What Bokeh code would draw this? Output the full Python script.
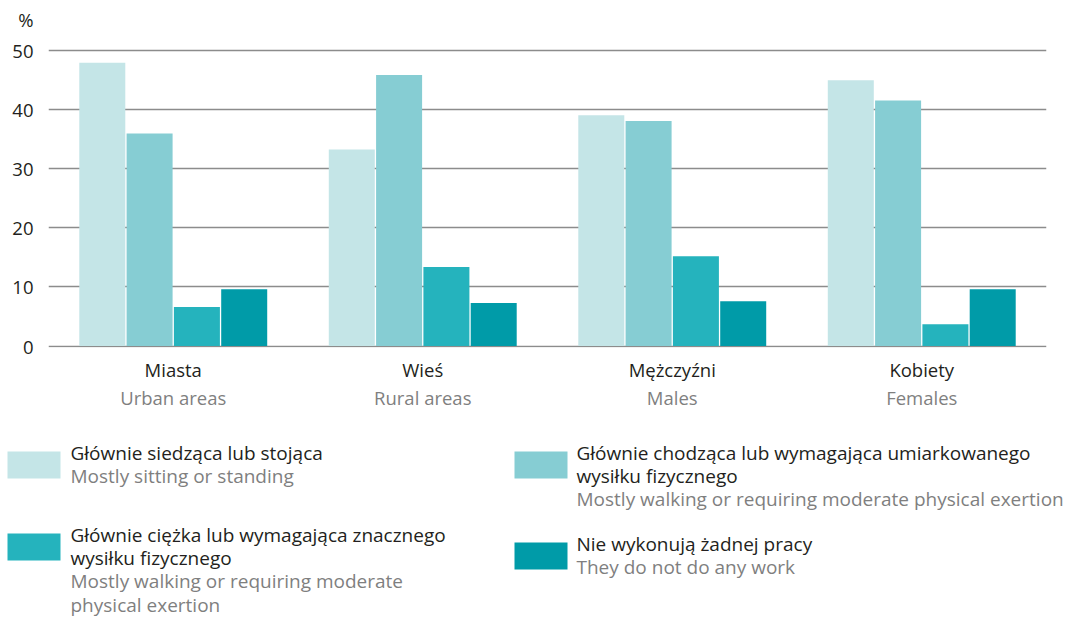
from bokeh.plotting import figure
from bokeh.models import FactorRange, Range1d, FixedTicker, ColumnDataSource, CategoricalAxis
from bokeh.transform import dodge
from bokeh.layouts import column
from bokeh.core.properties import value
from bokeh.embed import file_html
from bokeh.resources import INLINE

# ---------------- data ----------------
categories_pl = ["Miasta", "Wieś", "Mężczyźni", "Kobiety"]
categories_en = ["Urban areas", "Rural areas", "Males", "Females"]

sitting = [48.0, 33.3, 39.1, 45.0]
walking = [36.0, 45.9, 38.1, 41.6]
heavy = [6.6, 13.4, 15.2, 3.7]
no_work = [9.6, 7.3, 7.6, 9.6]

y_ticks = [0, 10, 20, 30, 40, 50]
unit_label = "%"

series_pl = [
    ["Głównie siedząca lub stojąca"],
    ["Głównie chodząca lub wymagająca umiarkowanego", "wysiłku fizycznego"],
    ["Głównie ciężka lub wymagająca znacznego", "wysiłku fizycznego"],
    ["Nie wykonują żadnej pracy"],
]
series_en = [
    ["Mostly sitting or standing"],
    ["Mostly walking or requiring moderate physical exertion"],
    ["Mostly walking or requiring moderate", "physical exertion"],
    ["They do not do any work"],
]
colors = ["#c4e5e7", "#86cdd3", "#25b3bd", "#009ba8"]

# ---------------- styles ----------------
FONT = "Open Sans"
FS = "18.5px"
FS_LEG = "19px"
DARK = "#231f20"
GRAY = "#7f7f7f"

W = 1067
H_MAIN = 412
UNIT_POS = 55.35   # where the "%" unit sits on the value scale

src = ColumnDataSource(dict(x=categories_pl, s0=sitting, s1=walking, s2=heavy, s3=no_work))

p = figure(width=W, height=H_MAIN, output_backend="svg", toolbar_location=None,
           x_range=FactorRange(*categories_pl, range_padding=0, factor_padding=0),
           y_range=Range1d(-0.25, 57),
           min_border_left=48, min_border_right=21, min_border_top=9, min_border_bottom=65)
p.extra_x_ranges = {"en": FactorRange(*categories_en, range_padding=0, factor_padding=0)}

step = 0.1896
bw = 0.1844
for i, col in enumerate(["s0", "s1", "s2", "s3"]):
    p.vbar(x=dodge("x", (i - 1.5) * step, range=p.x_range), top=col, bottom=0,
           width=bw, source=src, fill_color=colors[i], line_color=None)

p.outline_line_color = None
p.xgrid.grid_line_color = None
p.ygrid.grid_line_color = "#8c8c8c"
p.ygrid.grid_line_width = 1.4
p.ygrid.ticker = FixedTicker(ticks=y_ticks)
p.yaxis.ticker = FixedTicker(ticks=y_ticks + [UNIT_POS])
p.yaxis.major_label_overrides = {UNIT_POS: unit_label}
p.yaxis.minor_tick_line_color = None

en_axis = CategoricalAxis(x_range_name="en")
p.add_layout(en_axis, "below")

for ax in (p.xaxis[0], p.yaxis[0], en_axis):
    ax.axis_line_color = None
    ax.major_tick_line_color = None
    ax.minor_tick_line_color = None
    ax.major_tick_in = 0
    ax.major_tick_out = 0
    ax.major_label_text_font = FONT
    ax.major_label_text_font_size = FS
    ax.major_label_text_color = DARK

en_axis.major_label_text_color = GRAY
p.yaxis.major_label_standoff = 15
p.xaxis[0].major_label_standoff = 9
en_axis.major_label_standoff = 0

# ---------------- legend ----------------
H_LEG = 619 - H_MAIN
TOP = H_MAIN   # page y of legend canvas top
lg = figure(width=W, height=H_LEG, output_backend="svg", toolbar_location=None,
            x_range=Range1d(0, W), y_range=Range1d(H_LEG, 0),
            x_axis_type=None, y_axis_type=None, min_border=0)
lg.outline_line_color = None
lg.grid.visible = False

col_sw_x = [7, 514]
col_tx_x = [70, 576]
first_base = [460, 460, 542, 551]
line_h = 23.4
sw_w, sw_h = 53, 27
text_shift = -8   # renderer places alphabetic baseline slightly low

q = dict(left=[], right=[], top=[], bottom=[], c=[])
t = dict(x=[], y=[], text=[], c=[])
for i in range(4):
    c = i % 2
    b0 = first_base[i]
    q["left"].append(col_sw_x[c])
    q["right"].append(col_sw_x[c] + sw_w)
    q["top"].append(b0 - 9 - TOP)
    q["bottom"].append(b0 - 9 + sw_h - TOP)
    q["c"].append(colors[i])
    lines = [(s, DARK) for s in series_pl[i]] + [(s, GRAY) for s in series_en[i]]
    for k, (s, clr) in enumerate(lines):
        t["x"].append(col_tx_x[c])
        t["y"].append(b0 + k * line_h - TOP + text_shift)
        t["text"].append(s)
        t["c"].append(clr)

lg.quad(left="left", right="right", top="top", bottom="bottom", fill_color="c",
        line_color=None, source=ColumnDataSource(q))
lg.text(x="x", y="y", text="text", text_color="c", text_font=value(FONT),
        text_font_size=FS_LEG, text_baseline="alphabetic", text_align="left",
        source=ColumnDataSource(t))

layout = column(p, column(lg), spacing=0)
open("out.html", "w").write(file_html(layout, INLINE))
